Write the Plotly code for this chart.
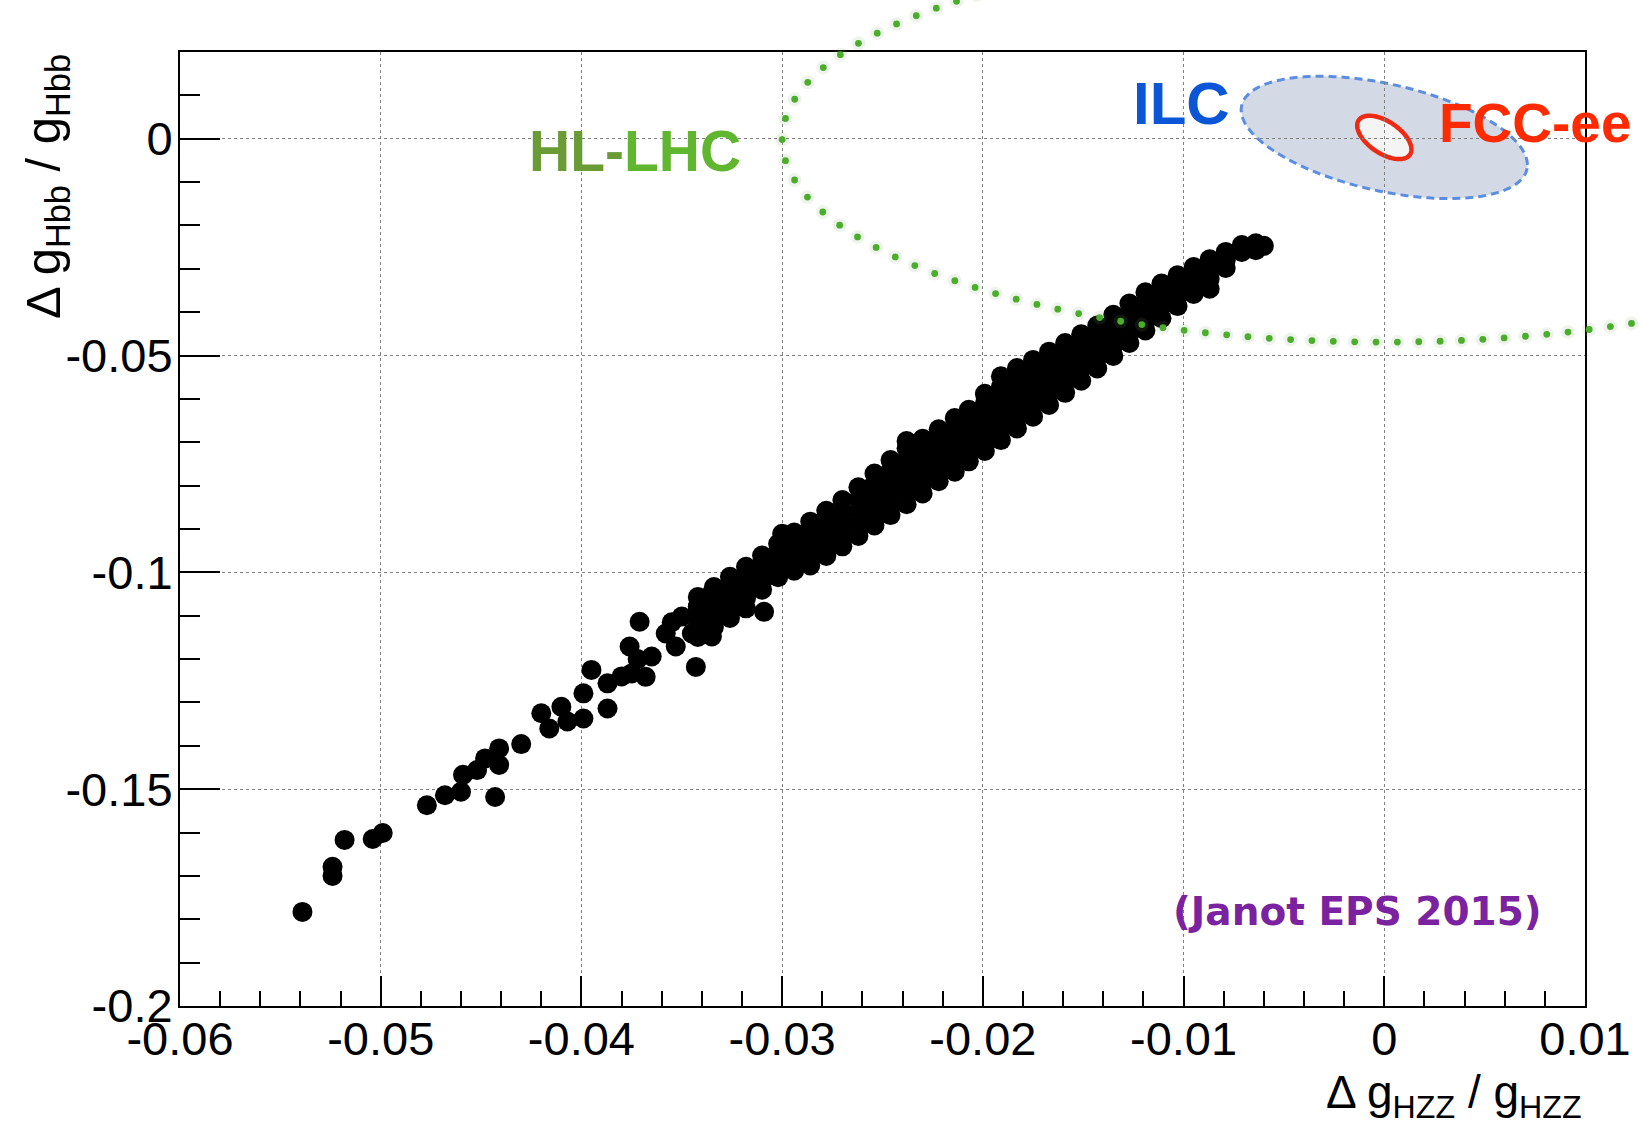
import numpy as np
import plotly.graph_objects as go

# ---------------- data ----------------
# isolated / sparse points of the lower-left tail  (x = dg_HZZ/g_HZZ, y = dg_Hbb/g_Hbb)
tail_hzz = [-0.0539, -0.0524, -0.0524, -0.0518, -0.0504, -0.0499, -0.0477, -0.0468, -0.0460,
            -0.0443, -0.0459, -0.0452, -0.0448, -0.0441, -0.0441, -0.0430, -0.0420, -0.0416,
            -0.0410, -0.0407, -0.0399, -0.0399, -0.0395, -0.0387, -0.0387, -0.0376, -0.0375,
            -0.0371, -0.0368, -0.0365, -0.0358, -0.0353, -0.0350, -0.0343, -0.0345, -0.0342,
            -0.0335, -0.0335, -0.0380, -0.0372, -0.0355, -0.0340, -0.0309]
tail_hbb = [-0.1783, -0.1679, -0.1700, -0.1617, -0.1615, -0.1601, -0.1537, -0.1514, -0.1506,
            -0.1518, -0.1467, -0.1456, -0.1429, -0.1406, -0.1444, -0.1396, -0.1325, -0.1360,
            -0.1310, -0.1344, -0.1279, -0.1337, -0.1225, -0.1314, -0.1256, -0.1171, -0.1233,
            -0.1114, -0.1241, -0.1194, -0.1141, -0.1171, -0.1102, -0.1218, -0.1141, -0.1079,
            -0.1148, -0.1048, -0.1240, -0.1200, -0.1115, -0.1110, -0.1091]

# dense band of points (read column by column along the band)
band_hzz = (
    [-0.0342] * 5 + [-0.0334] * 5 + [-0.0326] * 5 + [-0.0318] * 5 + [-0.0310] * 5 +
    [-0.0302] * 5 + [-0.0294] * 5 + [-0.0286] * 5 + [-0.0278] * 5 + [-0.0270] * 5 +
    [-0.0262] * 5 + [-0.0254] * 6 + [-0.0246] * 6 + [-0.0238] * 6 + [-0.0230] * 6 +
    [-0.0222] * 6 + [-0.0214] * 6 + [-0.0207] * 6 + [-0.0199] * 7 + [-0.0191] * 7 +
    [-0.0183] * 7 + [-0.0175] * 6 + [-0.0167] * 6 + [-0.0159] * 6 + [-0.0151] * 5 +
    [-0.0143] * 5 + [-0.0135] * 5 + [-0.0127] * 5 + [-0.0119] * 5 + [-0.0111] * 4 +
    [-0.0103] * 4 + [-0.0095] * 3 + [-0.0087] * 4 + [-0.0079] * 3 + [-0.0071] * 2 +
    [-0.0064] * 2 + [-0.0060] + [-0.0300, -0.0238]
)
band_hbb = [
    -0.1057, -0.1080, -0.1103, -0.1126, -0.1149,
    -0.1034, -0.1057, -0.1080, -0.1103, -0.1126,
    -0.1010, -0.1034, -0.1058, -0.1082, -0.1105,
    -0.0987, -0.1011, -0.1035, -0.1059, -0.1083,
    -0.0961, -0.0981, -0.1001, -0.1021, -0.1040,
    -0.0934, -0.0953, -0.0972, -0.0992, -0.1011,
    -0.0908, -0.0930, -0.0952, -0.0974, -0.0996,
    -0.0883, -0.0908, -0.0933, -0.0958, -0.0984,
    -0.0858, -0.0884, -0.0910, -0.0936, -0.0962,
    -0.0833, -0.0860, -0.0886, -0.0913, -0.0940,
    -0.0804, -0.0832, -0.0860, -0.0888, -0.0916,
    -0.0772, -0.0796, -0.0820, -0.0844, -0.0868, -0.0892,
    -0.0741, -0.0766, -0.0792, -0.0817, -0.0843, -0.0868,
    -0.0714, -0.0740, -0.0766, -0.0791, -0.0817, -0.0843,
    -0.0692, -0.0717, -0.0742, -0.0768, -0.0793, -0.0818,
    -0.0670, -0.0694, -0.0719, -0.0744, -0.0768, -0.0790,
    -0.0644, -0.0669, -0.0694, -0.0718, -0.0743, -0.0768,
    -0.0625, -0.0648, -0.0672, -0.0696, -0.0720, -0.0744,
    -0.0588, -0.0610, -0.0632, -0.0654, -0.0676, -0.0698, -0.0720,
    -0.0548, -0.0572, -0.0597, -0.0621, -0.0646, -0.0670, -0.0695,
    -0.0529, -0.0552, -0.0575, -0.0598, -0.0622, -0.0645, -0.0668,
    -0.0510, -0.0536, -0.0562, -0.0589, -0.0615, -0.0641,
    -0.0491, -0.0515, -0.0540, -0.0564, -0.0589, -0.0614,
    -0.0471, -0.0494, -0.0517, -0.0540, -0.0563, -0.0586,
    -0.0451, -0.0478, -0.0504, -0.0531, -0.0558,
    -0.0431, -0.0456, -0.0481, -0.0505, -0.0530,
    -0.0406, -0.0429, -0.0453, -0.0477, -0.0501,
    -0.0380, -0.0403, -0.0426, -0.0448, -0.0471,
    -0.0354, -0.0376, -0.0398, -0.0420, -0.0442,
    -0.0334, -0.0361, -0.0387, -0.0414,
    -0.0315, -0.0339, -0.0362, -0.0386,
    -0.0296, -0.0327, -0.0358,
    -0.0278, -0.0300, -0.0323, -0.0346,
    -0.0261, -0.0280, -0.0298,
    -0.0245, -0.0261,
    -0.0241, -0.0257,
    -0.0247,
    -0.0911, -0.0697,
]

x_tickvals = [-0.06, -0.05, -0.04, -0.03, -0.02, -0.01, 0.0, 0.01]
x_ticktext = ["-0.06", "-0.05", "-0.04", "-0.03", "-0.02", "-0.01", "0", "0.01"]
y_tickvals = [-0.2, -0.15, -0.1, -0.05, 0.0]
y_ticktext = ["-0.2", "-0.15", "-0.1", "-0.05", "0"]

# contour ellipses: [centre x, centre y, half-extent x, half-extent y, correlation]
hllhc_ellipse = [-0.00087, -0.00156, 0.02913, 0.04534, -0.03]
ilc_ellipse = [0.0, 0.0003, 0.00713, 0.0141, -0.45]
fcc_ellipse = [0.0, 0.0003, 0.00135, 0.0050, -0.55]

X_RANGE = [-0.06, 0.01]
Y_RANGE = [-0.2, 0.02]

# ---------------- layout geometry ----------------
FIG_W, FIG_H = 1643, 1128
M_L, M_R, M_T, M_B = 180, 54, 52, 122
PLOT_W = FIG_W - M_L - M_R
PLOT_H = FIG_H - M_T - M_B


def ellipse_xy(p, t):
    cx, cy, sx, sy, rho = p
    return (cx + sx * np.cos(t),
            cy + sy * (rho * np.cos(t) + np.sqrt(1 - rho ** 2) * np.sin(t)))


def ellipse_path(p, n=160):
    t = np.linspace(0, 2 * np.pi, n, endpoint=False)
    ex, ey = ellipse_xy(p, t)
    return "M " + " L ".join(f"{a:.6f},{b:.6f}" for a, b in zip(ex, ey)) + " Z"


def to_paper_x(v):
    return (np.asarray(v) - X_RANGE[0]) / (X_RANGE[1] - X_RANGE[0])


def to_paper_y(v):
    return (np.asarray(v) - Y_RANGE[0]) / (Y_RANGE[1] - Y_RANGE[0])


# dotted HL-LHC contour: dots evenly spaced on screen (it runs past the frame)
t = np.linspace(np.pi, 3 * np.pi, 20001)
ex, ey = ellipse_xy(hllhc_ellipse, t)
px = to_paper_x(ex) * PLOT_W
py = to_paper_y(ey) * PLOT_H
arc = np.concatenate([[0], np.cumsum(np.hypot(np.diff(px), np.diff(py)))])
n_dots = int(round(arc[-1] / 21.5))
s_dots = np.linspace(0, arc[-1], n_dots, endpoint=False)
dot_x = np.interp(s_dots, arc, ex)
dot_y = np.interp(s_dots, arc, ey)

fig = go.Figure()

fig.add_trace(go.Scatter(
    x=tail_hzz + band_hzz, y=tail_hbb + band_hbb, mode="markers",
    marker=dict(size=20, color="black", line=dict(width=0)),
    hoverinfo="skip", showlegend=False,
))

fig.add_shape(type="path", path=ellipse_path(ilc_ellipse), xref="x", yref="y",
              fillcolor="#d3dae5", line=dict(color="#5b8ee3", width=3, dash="8px,5px"),
              layer="below")
fig.add_shape(type="path", path=ellipse_path(fcc_ellipse), xref="x", yref="y",
              fillcolor="#f4f4f4", line=dict(color="#ee2a12", width=4.5),
              layer="below")

# HL-LHC dots drawn as paper-anchored circles so they can leave the frame
for xd, yd in zip(to_paper_x(dot_x), to_paper_y(dot_y)):
    if not (-0.2 < xd < 1.1 and -0.2 < yd < 1.1):
        continue
    fig.add_shape(type="circle", xref="paper", yref="paper", xsizemode="pixel",
                  ysizemode="pixel", xanchor=float(xd), yanchor=float(yd),
                  x0=-7, x1=7, y0=-7, y1=7, fillcolor="rgba(120,160,110,0.13)",
                  line=dict(width=0), layer="above")
    fig.add_shape(type="circle", xref="paper", yref="paper", xsizemode="pixel",
                  ysizemode="pixel", xanchor=float(xd), yanchor=float(yd),
                  x0=-3.4, x1=3.4, y0=-3.4, y1=3.4, fillcolor="#4aae2b",
                  line=dict(width=0), layer="above")


def paper_x(pxl):
    return (pxl - M_L) / PLOT_W


def paper_y(pyl):
    return (FIG_H - M_B - pyl) / PLOT_H


annots = [
    dict(text='<b><span style="color:#6a9b35">HL-</span><span style="color:#60b62e">LHC</span></b>',
         x=paper_x(528), y=paper_y(151), xanchor="left", yanchor="middle",
         font=dict(size=57, family="Liberation Sans, Arial, sans-serif")),
    dict(text="<b>ILC</b>", x=paper_x(1134), y=paper_y(104), xanchor="left", yanchor="middle",
         font=dict(size=60, color="#0a56d6", family="Liberation Sans, Arial, sans-serif")),
    dict(text="<b>FCC-ee</b>", x=paper_x(1441), y=paper_y(123), xanchor="left", yanchor="middle",
         font=dict(size=55, color="#ff2a00", family="Liberation Sans, Arial, sans-serif")),
    dict(text="<b>(Janot EPS 2015)</b>", x=paper_x(1174), y=paper_y(911), xanchor="left",
         yanchor="middle",
         font=dict(size=39, color="#7b22a0", family="DejaVu Sans, sans-serif")),
    dict(text="Δ g<sub>Hbb</sub> / g<sub>Hbb</sub>", textangle=-90,
         x=paper_x(46), y=1.0, xanchor="center", yanchor="top",
         font=dict(size=49, color="black", family="Liberation Sans, Arial, sans-serif")),
    dict(text="Δ g<sub>HZZ</sub> / g<sub>HZZ</sub>",
         x=paper_x(1588), y=paper_y(1064), xanchor="right", yanchor="top",
         font=dict(size=46, color="black", family="Liberation Sans, Arial, sans-serif")),
]
for a in annots:
    a.update(xref="paper", yref="paper", showarrow=False)
fig.update_layout(annotations=annots)

axis_common = dict(
    showline=True, linecolor="black", linewidth=2, mirror=True,
    showgrid=True, gridcolor="#808080", griddash="dot", gridwidth=1,
    zeroline=False, ticks="inside", tickwidth=2, tickcolor="black",
    tickfont=dict(size=47, color="black", family="Liberation Sans, Arial, sans-serif"),
    tickmode="array",
)

fig.update_xaxes(range=X_RANGE, tickvals=x_tickvals, ticktext=x_ticktext, ticklen=30,
                 ticklabelstandoff=-9,
                 minor=dict(ticks="inside", ticklen=15, tickwidth=2, tickcolor="black",
                            dtick=0.002, tick0=0, showgrid=False),
                 **axis_common)
fig.update_yaxes(range=Y_RANGE, tickvals=y_tickvals, ticktext=y_ticktext, ticklen=40,
                 ticklabelstandoff=-4,
                 minor=dict(ticks="inside", ticklen=20, tickwidth=2, tickcolor="black",
                            dtick=0.01, tick0=0, showgrid=False),
                 **axis_common)

fig.update_layout(
    width=FIG_W, height=FIG_H, autosize=False,
    margin=dict(l=M_L, r=M_R, t=M_T, b=M_B, pad=0),
    paper_bgcolor="white", plot_bgcolor="white", showlegend=False,
    font=dict(family="Liberation Sans, Arial, sans-serif", color="black"),
)

fig.write_html("out.html")
